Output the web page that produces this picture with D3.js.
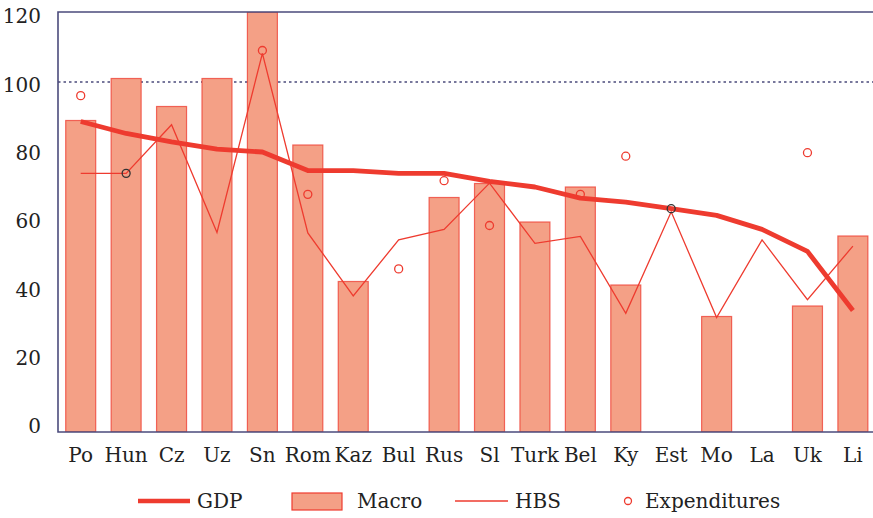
<!DOCTYPE html>
<html>
<head>
<meta charset="utf-8">
<script src="https://cdn.jsdelivr.net/npm/d3@7"></script>
<style>
  body { margin: 0; background: #fff; }
  text { font-family: "DejaVu Serif", serif; fill: #222; }
</style>
</head>
<body>
<div id="chart"></div>
<script>
// chart data
const countries = ["Po", "Hun", "Cz", "Uz", "Sn", "Rom", "Kaz", "Bul", "Rus", "Sl", "Turk", "Bel", "Ky", "Est", "Mo", "La", "Uk", "Li"];
const macro = [89, 101, 93, 101, 120, 82, 43, null, 67, 71, 60, 70, 42, null, 33, null, 36, 56];
const gdp = [88.7, 85.3, 82.9, 80.8, 80, 74.7, 74.7, 73.9, 73.9, 71.6, 70, 66.8, 65.7, 63.8, 61.9, 57.9, 51.6, 34.7];
const hbs = [73.9, 73.9, 87.8, 57, 108.2, 56.9, 38.9, 54.9, 57.9, 71.1, 53.9, 55.9, 33.9, 62.9, 32.7, 54.9, 37.8, 53.1];
const expenditures = [96.1, 73.9, null, null, 109, 67.9, null, 46.6, 71.8, 59, null, 67.9, 78.8, 63.8, null, null, 79.8, null];
const expDark = ["Hun", "Est"];
const yTicks = [0, 20, 40, 60, 80, 100, 120];

const width = 873, height = 518;
const red = "#ee3b2f", salmon = "#f4a086", navy = "#4b4b7c";

const svg = d3.select("#chart").append("svg")
    .attr("width", width)
    .attr("height", height);

const x = d3.scaleBand().domain(countries).range([58, 875.6]).paddingInner(0.34).paddingOuter(0.17);
const y = d3.scaleLinear().domain([0, 120]).range([432, 12]);
// tick labels in the original sit a little tighter than the grid
const yLab = d3.scaleLinear().domain([0, 120]).range([426, 16]);

svg.append("clipPath").attr("id", "clip")
   .append("rect").attr("x", 58).attr("y", 12).attr("width", 820).attr("height", 420);

const plot = svg.append("g").attr("clip-path", "url(#clip)");

// reference line at 100
plot.append("line")
    .attr("x1", 58).attr("x2", width)
    .attr("y1", y(100)).attr("y2", y(100))
    .attr("stroke", navy).attr("stroke-width", 1.3)
    .attr("stroke-dasharray", "2.5,3");

// Macro bars
plot.selectAll("rect.bar")
    .data(countries.map((c, i) => ({c: c, v: macro[i]})).filter(d => d.v != null))
    .enter().append("rect")
    .attr("class", "bar")
    .attr("x", d => x(d.c))
    .attr("width", x.bandwidth())
    .attr("y", d => y(d.v))
    .attr("height", d => y(0) - y(d.v))
    .attr("fill", salmon)
    .attr("stroke", red).attr("stroke-opacity", 0.75)
    .attr("stroke-width", 1.2);

const cx = c => x(c) + x.bandwidth() / 2;

// HBS thin line
plot.append("path")
    .datum(countries.map((c, i) => [cx(c), y(hbs[i])]))
    .attr("d", d3.line())
    .attr("fill", "none")
    .attr("stroke", red).attr("stroke-width", 1.3);

// GDP thick line
plot.append("path")
    .datum(countries.map((c, i) => [cx(c), y(gdp[i])]))
    .attr("d", d3.line())
    .attr("fill", "none")
    .attr("stroke", red).attr("stroke-width", 4.8)
    .attr("stroke-linejoin", "round");

// Expenditures circles
plot.selectAll("circle.exp")
    .data(countries.map((c, i) => ({c: c, v: expenditures[i]})).filter(d => d.v != null))
    .enter().append("circle")
    .attr("class", "exp")
    .attr("cx", d => cx(d.c))
    .attr("cy", d => y(d.v))
    .attr("r", 4)
    .attr("fill", "none")
    .attr("stroke", d => expDark.includes(d.c) ? "#333" : red)
    .attr("stroke-width", 1.3);

// frame
svg.append("path")
    .attr("d", `M${width},12H58V432H${width}`)
    .attr("fill", "none")
    .attr("stroke", navy).attr("stroke-width", 1.6);

// y tick labels
svg.selectAll("text.ytick")
    .data(yTicks)
    .enter().append("text")
    .attr("class", "ytick")
    .attr("x", 41)
    .attr("y", d => yLab(d) + 7.3)
    .attr("text-anchor", "end")
    .attr("font-size", 20)
    .text(d => d);

// x labels
svg.selectAll("text.xlab")
    .data(countries)
    .enter().append("text")
    .attr("class", "xlab")
    .attr("x", d => cx(d))
    .attr("y", 462)
    .attr("text-anchor", "middle")
    .attr("font-size", 20)
    .text(d => d);

// legend
const leg = svg.append("g");
const ly = 501;
leg.append("line").attr("x1", 138).attr("x2", 190).attr("y1", ly).attr("y2", ly)
   .attr("stroke", red).attr("stroke-width", 4.5);
leg.append("text").attr("x", 197).attr("y", ly + 7).attr("font-size", 20).text("GDP");
leg.append("rect").attr("x", 292).attr("y", ly - 8).attr("width", 50).attr("height", 17)
   .attr("fill", salmon).attr("stroke", red).attr("stroke-width", 1.2);
leg.append("text").attr("x", 357).attr("y", ly + 7).attr("font-size", 20).text("Macro");
leg.append("line").attr("x1", 455).attr("x2", 508).attr("y1", ly).attr("y2", ly)
   .attr("stroke", red).attr("stroke-width", 1.3);
leg.append("text").attr("x", 515).attr("y", ly + 7).attr("font-size", 20).text("HBS");
leg.append("circle").attr("cx", 628).attr("cy", ly).attr("r", 3.5)
   .attr("fill", "none").attr("stroke", red).attr("stroke-width", 1.3);
leg.append("text").attr("x", 645).attr("y", ly + 7).attr("font-size", 20).text("Expenditures");
</script>
</body>
</html>
